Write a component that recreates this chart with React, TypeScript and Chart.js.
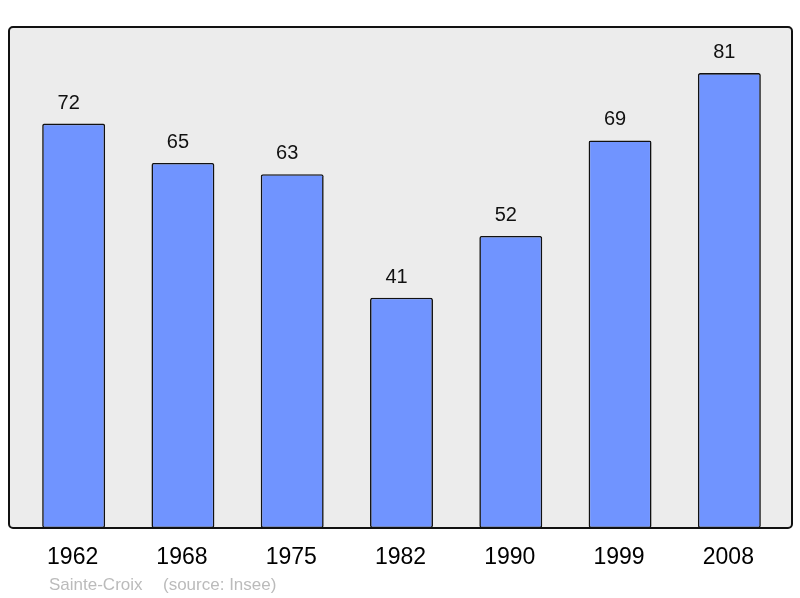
import React, { useEffect, useRef } from "react";
import { Chart, registerables } from "chart.js";

Chart.register(...registerables);

const years = ["1962", "1968", "1975", "1982", "1990", "1999", "2008"];
const population = [72, 65, 63, 41, 52, 69, 81];
const footerPlace = "Sainte-Croix";
const footerSource = "(source: Insee)";

const FONT = "'Liberation Sans', Arial, sans-serif";

export default function App() {
  const ref = useRef<HTMLCanvasElement | null>(null);

  useEffect(() => {
    if (!ref.current) return;
    const frame = { left: 9, top: 27, right: 792, bottom: 528 };

    const decor = {
      id: "decor",
      beforeDraw(chart: any) {
        const ctx = chart.ctx;
        ctx.save();
        ctx.beginPath();
        ctx.roundRect(frame.left, frame.top, frame.right - frame.left, frame.bottom - frame.top, 4);
        ctx.fillStyle = "#ececec";
        ctx.fill();
        ctx.restore();
      },
      afterDatasetsDraw(chart: any) {
        const ctx = chart.ctx;
        const meta = chart.getDatasetMeta(0);
        ctx.save();
        ctx.fillStyle = "#111";
        ctx.textAlign = "center";
        ctx.textBaseline = "middle";
        ctx.font = `20px ${FONT}`;
        meta.data.forEach((bar: any, i: number) => {
          ctx.fillText(String(population[i]), bar.x - 5, bar.y - 20.5);
        });
        ctx.font = `23px ${FONT}`;
        ctx.fillStyle = "#000";
        const xs = chart.scales.x;
        years.forEach((y, i) => {
          ctx.fillText(y, xs.getPixelForValue(i) - 1, 558);
        });
        ctx.font = `17px ${FONT}`;
        ctx.fillStyle = "#bbbbbb";
        ctx.textAlign = "left";
        ctx.fillText(footerPlace, 49, 585);
        ctx.fillText(footerSource, 163, 585);
        // frame border
        ctx.beginPath();
        ctx.roundRect(frame.left, frame.top, frame.right - frame.left, frame.bottom - frame.top, 4);
        ctx.lineWidth = 2;
        ctx.strokeStyle = "#111";
        ctx.stroke();
        ctx.restore();
      },
    };

    const chart = new Chart(ref.current, {
      type: "bar",
      data: {
        labels: years,
        datasets: [
          {
            data: population,
            backgroundColor: "#7094ff",
            borderColor: "#111",
            borderWidth: 1.6,
            borderRadius: 2,
            borderSkipped: false,
            categoryPercentage: 1,
            barPercentage: 0.576,
          },
        ],
      },
      options: {
        animation: false,
        responsive: false,
        maintainAspectRatio: false,
        layout: { padding: { left: 19, right: 16, top: 27, bottom: 70 } },
        plugins: { legend: { display: false }, tooltip: { enabled: false }, title: { display: false } },
        scales: {
          x: { display: false, offset: true, grid: { display: false } },
          y: { display: false, min: 0, max: 89.2 },
        },
      },
      plugins: [decor],
    });
    return () => chart.destroy();
  }, []);

  return (
    <div style={{ position: "absolute", left: 0, top: 0, width: 800, height: 598 }}>
      <canvas ref={ref} width={800} height={598} style={{ width: 800, height: 598 }} />
    </div>
  );
}
